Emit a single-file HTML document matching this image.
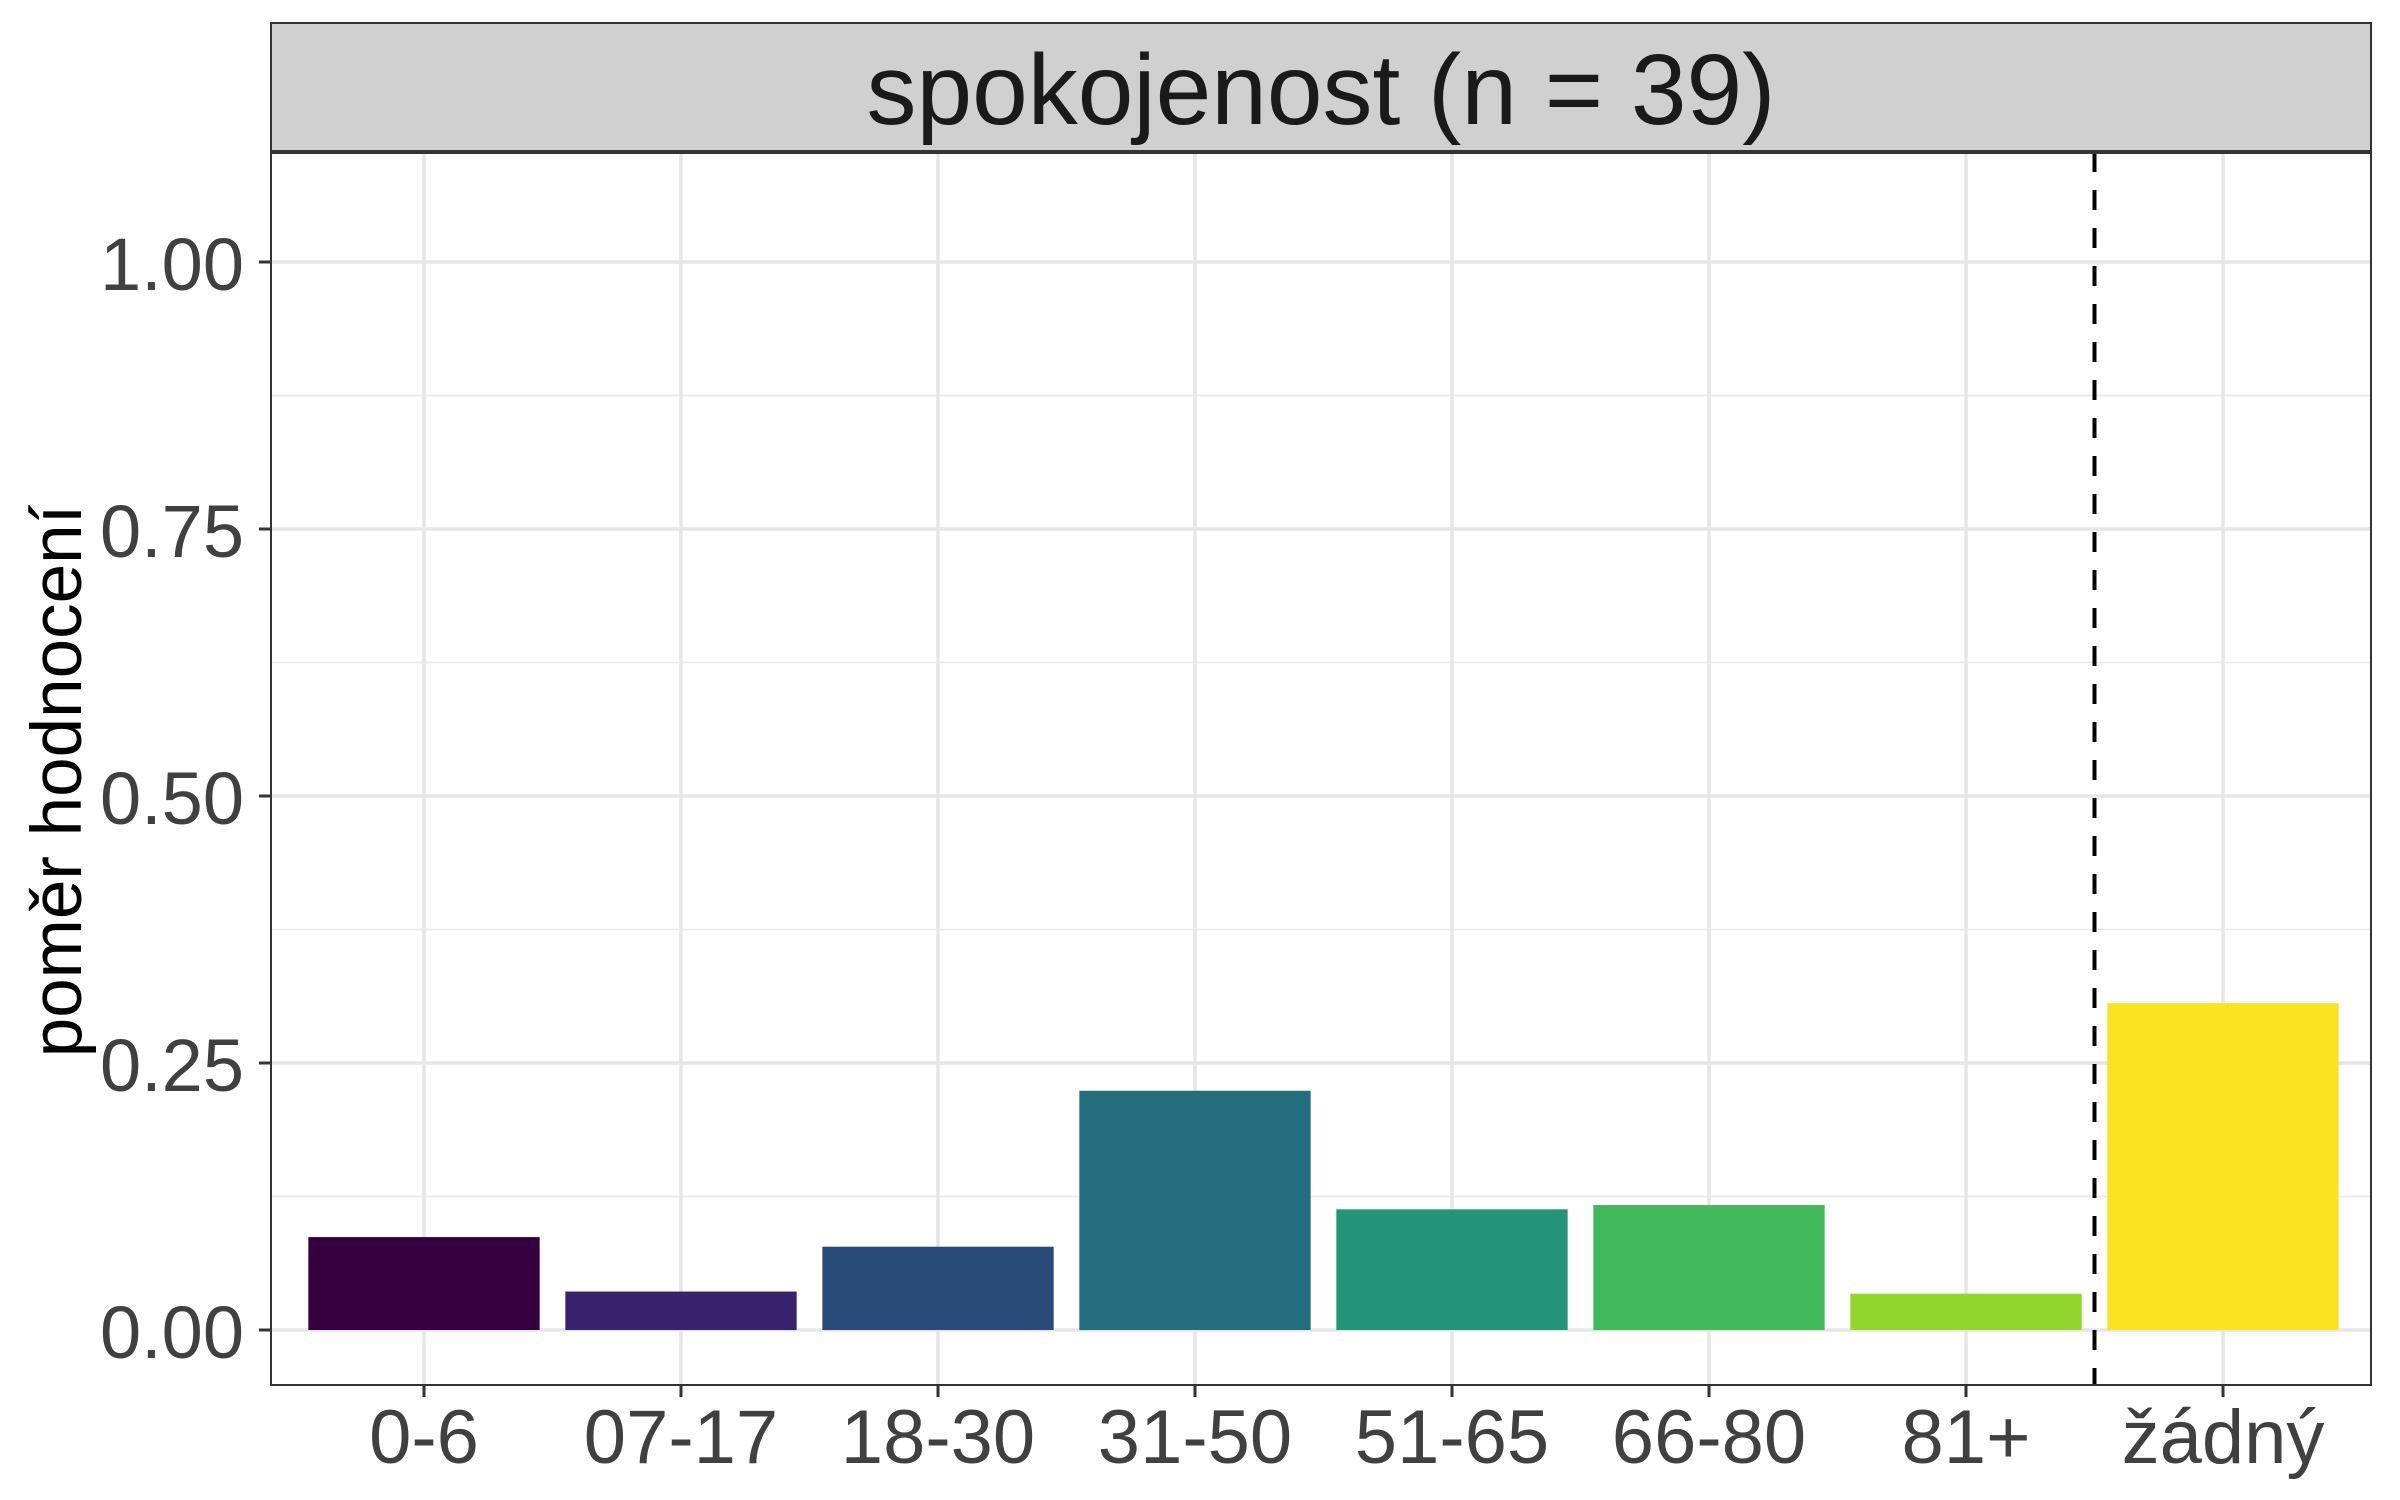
<!DOCTYPE html>
<html><head><meta charset="utf-8"><style>
html,body{margin:0;padding:0;background:#fff;}
svg{display:block;font-family:"Liberation Sans",Arial,sans-serif;}
</style></head><body>
<svg id="chart" width="2400" height="1500" viewBox="0 0 2400 1500" xmlns="http://www.w3.org/2000/svg">
<rect x="0" y="0" width="2400" height="1500" fill="#fff"/>
<g id="grid"></g>
<g id="bars"></g>
<g id="frame"></g>
<g id="axes"></g>
</svg>
<script>
const categories = ["0-6","07-17","18-30","31-50","51-65","66-80","81+","žádný"];
const values = [0.087,0.036,0.078,0.224,0.113,0.117,0.034,0.306];
const colors = ["#360040","#37226B","#2A4A7A","#226E7C","#229478","#41B85A","#92D52B","#FCE31F"];
const yTicks = [0,0.25,0.5,0.75,1.0];
const yTickLabels = ["0.00","0.25","0.50","0.75","1.00"];
const yMinor = [0.125,0.375,0.625,0.875];
const separatorAfter = 6.5;

const NS="http://www.w3.org/2000/svg";
const L=271,R=2371,T=152,B=1385,stripTop=23;
const x0=424, step=(2223-424)/7;
function xs(i){return x0+i*step;}
function ys(v){return 1330-v*1068;}
function mk(tag,attrs,parent){const e=document.createElementNS(NS,tag);for(const k in attrs)e.setAttribute(k,attrs[k]);parent.appendChild(e);return e;}
const grid=document.getElementById('grid'),bars=document.getElementById('bars'),frame=document.getElementById('frame'),axes=document.getElementById('axes');

yMinor.forEach(v=>{const l=mk('line',{x1:L,x2:R,y1:ys(v),y2:ys(v),stroke:'#ebebeb','stroke-width':1.8},grid);

});
yTicks.forEach(v=>{const l=mk('line',{x1:L,x2:R,y1:ys(v),y2:ys(v),stroke:'#e6e6e6','stroke-width':3.5},grid);

});
categories.forEach((c,i)=>{const l=mk('line',{x1:xs(i),x2:xs(i),y1:T,y2:B,stroke:'#e6e6e6','stroke-width':3.5},grid);

});

const bw=step*0.9;
categories.forEach((c,i)=>{const r=mk('rect',{x:xs(i)-bw/2,y:ys(values[i]),width:bw,height:ys(0)-ys(values[i]),fill:colors[i]},bars);

});

const sx=xs(separatorAfter);
const sep=mk('line',{x1:sx,x2:sx,y1:T,y2:B,stroke:'#000','stroke-width':4,'stroke-dasharray':'20 18'},bars);



const strip=mk('rect',{x:L,y:stripTop,width:R-L,height:T-stripTop,fill:'#d0d0d0',stroke:'#333','stroke-width':2},frame);


const st=mk('text',{x:(L+R)/2,y:124,'text-anchor':'middle','font-size':100,fill:'#1a1a1a'},frame);
st.textContent='spokojenost (n = 39)';


const border=mk('rect',{x:L,y:T,width:R-L,height:B-T,fill:'none',stroke:'#333','stroke-width':2},frame);


const sl=mk('line',{x1:L,x2:R,y1:T,y2:T,stroke:'#333','stroke-width':4},frame);



yTicks.forEach((v,i)=>{
 const t=mk('line',{x1:L-12,x2:L,y1:ys(v),y2:ys(v),stroke:'#333','stroke-width':3},axes);
 
 
 const tx=mk('text',{x:244,y:ys(v)+28,'text-anchor':'end','font-size':74,fill:'#404040'},axes);
 tx.textContent=yTickLabels[i];
 
 
});
categories.forEach((c,i)=>{
 const t=mk('line',{x1:xs(i),x2:xs(i),y1:B,y2:B+12,stroke:'#333','stroke-width':3},axes);
 
 
 const tx=mk('text',{x:xs(i),y:1463,'text-anchor':'middle','font-size':76,fill:'#404040'},axes);
 tx.textContent=c;
 
 
});
const yt=mk('text',{x:0,y:0,'text-anchor':'middle','font-size':71,fill:'#000',transform:'translate(81,781) rotate(-90)'},axes);
yt.textContent='poměr hodnocení';


</script>
</body></html>
